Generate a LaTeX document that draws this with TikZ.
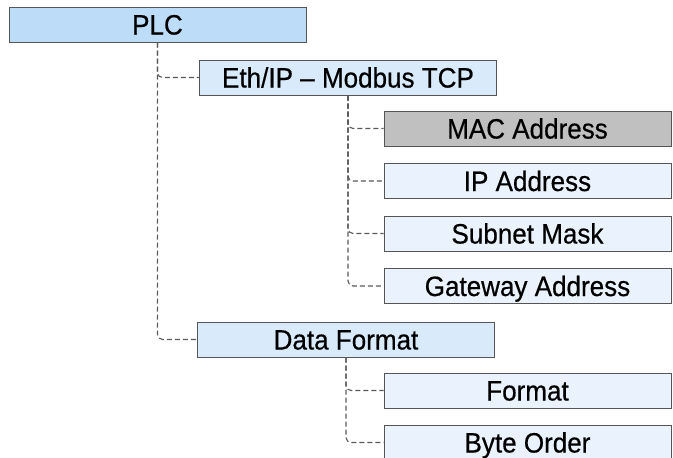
\documentclass[tikz,border=0pt]{standalone}
\usepackage{fontspec}
\setmainfont[FakeStretch=0.93,FakeBold=0.5]{Liberation Sans}
\usepackage{xcolor}
\usetikzlibrary{positioning,calc}
\definecolor{plcblue}{HTML}{BDDCF8}
\definecolor{midblue}{HTML}{D9EAFB}
\definecolor{paleblue}{HTML}{EAF3FD}
\definecolor{macgray}{HTML}{C0C0C0}
\definecolor{edgegray}{HTML}{555555}
\definecolor{linkgray}{HTML}{5A5A5A}
\tikzset{
menubox/.style={
draw=edgegray,
line width=1pt,
inner sep=0pt,
minimum height=35pt,
text height=20pt,
text depth=0pt,
font=\fontsize{28}{30}\selectfont
},
mainbox/.style={
menubox,
fill=plcblue,
minimum width=297pt
},
subbox/.style={
menubox,
fill=midblue,
minimum width=297pt
},
leafbox/.style={
menubox,
fill=paleblue,
minimum width=287pt
},
link/.style={
draw=linkgray,
dash pattern=on 5pt off 3pt,
line width=1.1pt,
rounded corners=5pt
}
}

\begin{document}
\begin{tikzpicture}[x=1pt,y=-1pt]
\useasboundingbox (0,0) rectangle (673,458);
\node[mainbox](plc) at (157.5,24.5){PLC};
\node[subbox](eth) at (348,77.5){Eth/IP – Modbus TCP};
\node[leafbox,fill=macgray](mac) at (527.5,128.5){MAC Address};
\node[leafbox](ip) at (527.5,181){IP Address};
\node[leafbox](subnet) at (527.5,233.5){Subnet Mask};
\node[leafbox](gw) at (527.5,286){Gateway Address};
\node[subbox](dataf) at (346,339.5){Data Format};
\node[leafbox](fmt) at (527.5,390.5){Format};
\node[leafbox](byteo) at (527.5,442.5){Byte Order};

\foreach \x/\y in {plc/eth,plc/dataf,eth/mac,eth/ip,eth/subnet,eth/gw,dataf/fmt,dataf/byteo}
\draw[link](\x.south)|-(\y.west);
\end{tikzpicture}
\end{document}
